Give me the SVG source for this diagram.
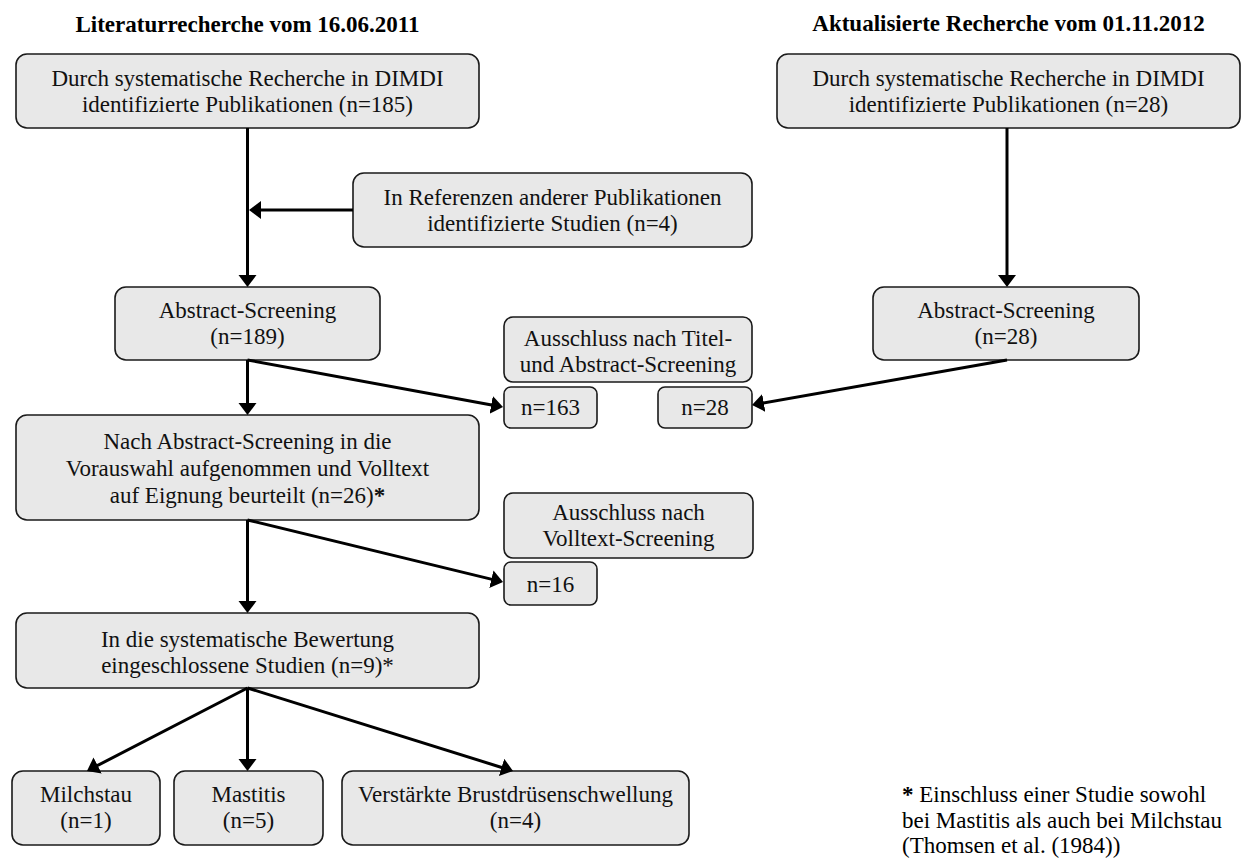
<svg xmlns="http://www.w3.org/2000/svg" width="1247" height="859" viewBox="0 0 1247 859">
<style>
.box{fill:#e8e8e8;stroke:#1a1a1a;stroke-width:1.6}
.t{font-family:"Liberation Serif","Times New Roman",serif;font-size:23px;fill:#111;text-anchor:middle}
.h{font-family:"Liberation Serif","Times New Roman",serif;font-size:23px;font-weight:bold;fill:#000;text-anchor:middle}
.fn{font-family:"Liberation Serif","Times New Roman",serif;font-size:23px;fill:#000}
.c{fill:none;stroke:#000;stroke-width:3;marker-end:url(#ah)}
</style>
<defs>
<marker id="ah" markerUnits="userSpaceOnUse" markerWidth="14" markerHeight="20" refX="6" refY="9" orient="auto">
<path d="M0,0 L12,9 L0,18 Z" fill="#000"/>
</marker>
</defs>
<rect width="1247" height="859" fill="#fff"/>
<g id="titles">
<text class="h" x="247.5" y="32">Literaturrecherche vom 16.06.2011</text>
<text class="h" x="1008.5" y="31">Aktualisierte Recherche vom 01.11.2012</text>
</g>
<g id="n-dimdi1">
<rect class="box" x="16" y="54" width="463" height="74" rx="11"/>
<text class="t" x="247.5" y="86">Durch systematische Recherche in DIMDI</text>
<text class="t" x="247.5" y="112">identifizierte Publikationen (n=185)</text>
</g>
<g id="n-dimdi2">
<rect class="box" x="777" y="54" width="463" height="74" rx="11"/>
<text class="t" x="1008.5" y="86">Durch systematische Recherche in DIMDI</text>
<text class="t" x="1008.5" y="112">identifizierte Publikationen (n=28)</text>
</g>
<g id="n-ref">
<rect class="box" x="353" y="173" width="399" height="74" rx="11"/>
<text class="t" x="552.5" y="205">In Referenzen anderer Publikationen</text>
<text class="t" x="552.5" y="231">identifizierte Studien (n=4)</text>
</g>
<g id="n-abs1">
<rect class="box" x="115" y="287" width="265" height="73" rx="11"/>
<text class="t" x="247.5" y="318">Abstract-Screening</text>
<text class="t" x="247.5" y="344">(n=189)</text>
</g>
<g id="n-abs2">
<rect class="box" x="873" y="287" width="266" height="73" rx="11"/>
<text class="t" x="1006" y="318">Abstract-Screening</text>
<text class="t" x="1006" y="344">(n=28)</text>
</g>
<g id="n-excl1">
<rect class="box" x="504" y="317" width="248" height="65" rx="9"/>
<text class="t" x="628" y="346">Ausschluss nach Titel-</text>
<text class="t" x="628" y="372">und Abstract-Screening</text>
</g>
<g id="n-163">
<rect class="box" x="504" y="387" width="93" height="41" rx="7"/>
<text class="t" x="550.5" y="415">n=163</text>
</g>
<g id="n-28">
<rect class="box" x="658" y="387" width="94" height="41" rx="7"/>
<text class="t" x="705" y="415">n=28</text>
</g>
<g id="n-voll">
<rect class="box" x="16" y="415" width="463" height="105" rx="11"/>
<text class="t" x="247.5" y="449">Nach Abstract-Screening in die</text>
<text class="t" x="247.5" y="476">Vorauswahl aufgenommen und Volltext</text>
<text class="t" x="247.5" y="503">auf Eignung beurteilt (n=26)<tspan font-weight="bold">*</tspan></text>
</g>
<g id="n-excl2">
<rect class="box" x="504" y="493" width="249" height="65" rx="9"/>
<text class="t" x="628.5" y="520">Ausschluss nach</text>
<text class="t" x="628.5" y="546">Volltext-Screening</text>
</g>
<g id="n-16">
<rect class="box" x="504" y="562" width="93" height="43" rx="7"/>
<text class="t" x="550.5" y="592">n=16</text>
</g>
<g id="n-incl">
<rect class="box" x="16" y="613" width="463" height="75" rx="11"/>
<text class="t" x="247.5" y="647">In die systematische Bewertung</text>
<text class="t" x="247.5" y="673">eingeschlossene Studien (n=9)*</text>
</g>
<g id="n-milch">
<rect class="box" x="12" y="771" width="148" height="74" rx="11"/>
<text class="t" x="86" y="802">Milchstau</text>
<text class="t" x="86" y="828">(n=1)</text>
</g>
<g id="n-mast">
<rect class="box" x="174" y="771" width="149" height="74" rx="11"/>
<text class="t" x="248.5" y="802">Mastitis</text>
<text class="t" x="248.5" y="828">(n=5)</text>
</g>
<g id="n-brust">
<rect class="box" x="342" y="771" width="347" height="74" rx="11"/>
<text class="t" x="515.5" y="802">Verstärkte Brustdrüsenschwellung</text>
<text class="t" x="515.5" y="828">(n=4)</text>
</g>
<g id="footnote">
<text class="fn" x="902" y="802"><tspan font-weight="bold">*</tspan> Einschluss einer Studie sowohl</text>
<text class="fn" x="902" y="828">bei Mastitis als auch bei Milchstau</text>
<text class="fn" x="902" y="853">(Thomsen et al. (1984))</text>
</g>
<g id="connectors">
<path class="c" d="M247.5,128 L247.5,281"/>
<path class="c" d="M353,210 L255,210"/>
<path class="c" d="M1007,128 L1007,281"/>
<path class="c" d="M247.5,360 L497.1,405.9"/>
<path class="c" d="M247.5,360 L247.5,409"/>
<path class="c" d="M1007,360 L757.9,404"/>
<path class="c" d="M247.5,520 L497.2,580.6"/>
<path class="c" d="M247.5,520 L247.5,607"/>
<path class="c" d="M247.5,688 L92.3,768.2"/>
<path class="c" d="M247.5,688 L247.5,765"/>
<path class="c" d="M247.5,688 L507.3,769.2"/>
</g>
</svg>
